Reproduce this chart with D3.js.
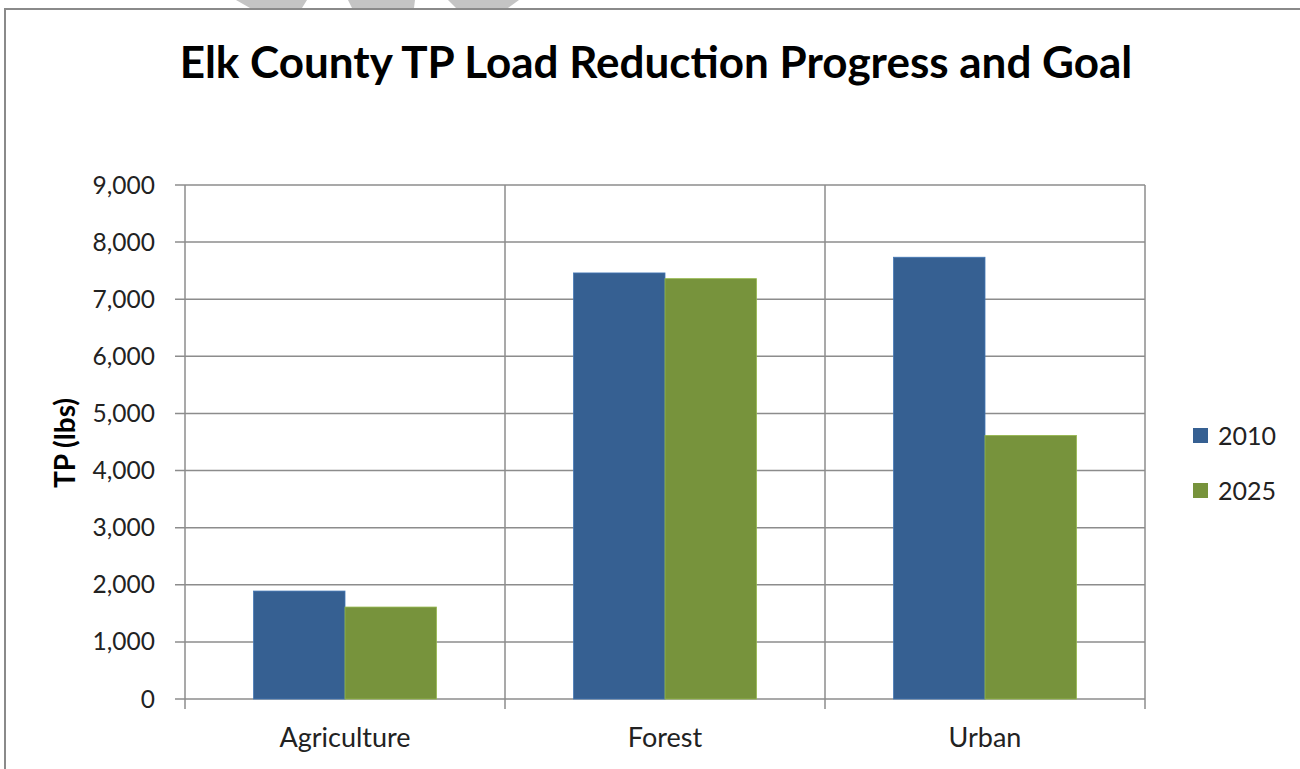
<!DOCTYPE html>
<html>
<head>
<meta charset="utf-8">
<script src="https://cdn.jsdelivr.net/npm/d3@7"></script>
<style>
  body { margin: 0; background: #fff; }
  svg { display: block; font-family: Lato, "Open Sans", sans-serif; }
</style>
</head>
<body>
<div id="chart"></div>
<script>
var categories = ["Agriculture", "Forest", "Urban"];
var seriesNames = ["2010", "2025"];
var values2010 = [1890, 7460, 7735];
var values2025 = [1610, 7360, 4615];
var yTicks = [0, 1000, 2000, 3000, 4000, 5000, 6000, 7000, 8000, 9000];

var colors = { "2010": "#366092", "2025": "#77933c" };
var gridColor = "#8c8c8c";

var width = 1300, height = 769;
var margin = { top: 185, right: 155, bottom: 70, left: 185 };

var svg = d3.select("#chart").append("svg")
  .attr("width", width)
  .attr("height", height);

// bits of shapes peeking over the frame at the top
var scraps = [
  [[236, 0], [307, 0], [302, 8], [250, 8]],
  [[348, 0], [415, 0], [414, 8], [352, 8]],
  [[448, 0], [519, 0], [508, 8], [456, 8]]
];
svg.selectAll(".scrap").data(scraps).enter().append("polygon")
  .attr("points", function(d) { return d.map(function(p) { return p.join(","); }).join(" "); })
  .style("fill", "#c4c4c4");

// outer frame
svg.append("rect")
  .attr("x", 5).attr("y", 9)
  .attr("width", width + 20).attr("height", height + 20)
  .style("fill", "none")
  .style("stroke", "#8a8a8a")
  .style("stroke-width", 2);

svg.append("text")
  .attr("x", 656).attr("y", 78)
  .attr("text-anchor", "middle")
  .style("font-size", "44px")
  .style("font-weight", "bold")
  .text("Elk County TP Load Reduction Progress and Goal");

var x0 = d3.scaleBand()
  .domain(categories)
  .range([margin.left, width - margin.right])
  .padding(0);

var barW = x0.bandwidth() / (seriesNames.length + 1.5);
var x1 = d3.scaleBand()
  .domain(seriesNames)
  .range([barW * 0.75, barW * 0.75 + barW * seriesNames.length])
  .padding(0);

var y = d3.scaleLinear()
  .domain([0, 9000])
  .range([height - margin.bottom, margin.top]);

var plotL = margin.left, plotR = width - margin.right;
var grid = svg.append("g");

grid.selectAll(".hline").data(yTicks).enter().append("line")
  .attr("x1", plotL - 10).attr("x2", plotR)
  .attr("y1", function(d) { return y(d); })
  .attr("y2", function(d) { return y(d); })
  .style("stroke", gridColor)
  .style("stroke-width", 1.5);

var bounds = categories.map(function(c) { return x0(c); }).concat([plotR]);
grid.selectAll(".vline").data(bounds).enter().append("line")
  .attr("x1", function(d) { return d; })
  .attr("x2", function(d) { return d; })
  .attr("y1", y(9000))
  .attr("y2", y(0) + 10)
  .style("stroke", gridColor)
  .style("stroke-width", 1.5);

svg.selectAll(".ytick").data(yTicks).enter().append("text")
  .attr("x", 155)
  .attr("y", function(d) { return y(d); })
  .attr("dy", "0.35em")
  .attr("text-anchor", "end")
  .style("font-size", "24.5px")
  .style("fill", "#222")
  .text(d3.format(","));

svg.append("text")
  .attr("transform", "translate(75,443) rotate(-90)")
  .attr("text-anchor", "middle")
  .style("font-size", "28px")
  .style("font-weight", "bold")
  .text("TP (lbs)");

var rows = categories.map(function(c, i) {
  return { cat: c, vals: [{ s: "2010", v: values2010[i] }, { s: "2025", v: values2025[i] }] };
});

var groups = svg.selectAll(".cat").data(rows).enter().append("g")
  .attr("transform", function(d) { return "translate(" + x0(d.cat) + ",0)"; });

groups.selectAll("rect").data(function(d) { return d.vals; }).enter().append("rect")
  .attr("x", function(d) { return x1(d.s); })
  .attr("width", x1.bandwidth())
  .attr("y", function(d) { return y(d.v); })
  .attr("height", function(d) { return y(0) - y(d.v); })
  .style("fill", function(d) { return colors[d.s]; })
  .style("stroke", function(d) { return d3.rgb(colors[d.s]).brighter(0.6); })
  .style("stroke-width", 0.8);

svg.selectAll(".xlab").data(categories).enter().append("text")
  .attr("x", function(d) { return x0(d) + x0.bandwidth() / 2; })
  .attr("y", 738)
  .attr("dy", "0.35em")
  .attr("text-anchor", "middle")
  .style("font-size", "27px")
  .style("fill", "#222")
  .text(function(d) { return d; });

var legend = svg.selectAll(".leg").data(seriesNames).enter().append("g")
  .attr("transform", function(d, i) { return "translate(1193," + (436 + i * 55) + ")"; });

legend.append("rect")
  .attr("x", 0).attr("y", -8)
  .attr("width", 15).attr("height", 15)
  .style("fill", function(d) { return colors[d]; });

legend.append("text")
  .attr("x", 25)
  .attr("dy", "0.35em")
  .style("font-size", "25px")
  .style("fill", "#222")
  .text(function(d) { return d; });
</script>
</body>
</html>
